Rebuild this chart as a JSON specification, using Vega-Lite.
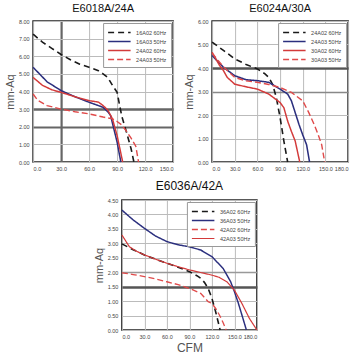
{
  "$schema": "https://vega.github.io/schema/vega-lite/v6.json",
  "padding": {"left": 3, "top": 2, "right": 5, "bottom": 2},
  "background": "white",
  "config": {
    "font": "Liberation Sans",
    "view": {"stroke": "#222", "strokeWidth": 1.6},
    "title": {"fontSize": 11, "fontWeight": "normal", "color": "#111", "offset": 5, "anchor": "middle", "frame": "group"},
    "axis": {"domain": false, "ticks": false, "grid": true, "gridColor": "#bbb", "gridWidth": 1, "labelFontSize": 5.5, "labelColor": "#444", "labelPadding": 4, "titleFontSize": 11, "titleFontWeight": "normal", "titleColor": "#555", "titlePadding": 3},
    "legend": {"orient": "top-right", "offset": 2, "fillColor": "white", "strokeColor": "#999", "strokeWidth": 1, "padding": 4, "symbolType": "M-1,0H4", "symbolSize": 81, "labelFontSize": 5.5, "labelColor": "#444", "rowPadding": 0, "labelOffset": 18}
  },
  "datasets": {
    "p1": [
      {"s": "16A02 60Hz", "cfm": 0, "p": 7.25}, {"s": "16A02 60Hz", "cfm": 10, "p": 6.8}, {"s": "16A02 60Hz", "cfm": 20, "p": 6.45}, {"s": "16A02 60Hz", "cfm": 30, "p": 6.1}, {"s": "16A02 60Hz", "cfm": 40, "p": 5.8}, {"s": "16A02 60Hz", "cfm": 50, "p": 5.55}, {"s": "16A02 60Hz", "cfm": 60, "p": 5.37}, {"s": "16A02 60Hz", "cfm": 70, "p": 5.18}, {"s": "16A02 60Hz", "cfm": 75, "p": 5.0}, {"s": "16A02 60Hz", "cfm": 80, "p": 4.8}, {"s": "16A02 60Hz", "cfm": 85, "p": 4.35}, {"s": "16A02 60Hz", "cfm": 90, "p": 3.95}, {"s": "16A02 60Hz", "cfm": 95, "p": 2.6}, {"s": "16A02 60Hz", "cfm": 100, "p": 1.7}, {"s": "16A02 60Hz", "cfm": 105, "p": 0.75}, {"s": "16A02 60Hz", "cfm": 108, "p": 0},
      {"s": "16A03 50Hz", "cfm": 0, "p": 5.37}, {"s": "16A03 50Hz", "cfm": 5, "p": 5.1}, {"s": "16A03 50Hz", "cfm": 15, "p": 4.55}, {"s": "16A03 50Hz", "cfm": 30, "p": 4.05}, {"s": "16A03 50Hz", "cfm": 45, "p": 3.7}, {"s": "16A03 50Hz", "cfm": 60, "p": 3.39}, {"s": "16A03 50Hz", "cfm": 70, "p": 3.2}, {"s": "16A03 50Hz", "cfm": 75, "p": 3.1}, {"s": "16A03 50Hz", "cfm": 80, "p": 2.85}, {"s": "16A03 50Hz", "cfm": 83, "p": 2.64}, {"s": "16A03 50Hz", "cfm": 90, "p": 1.13}, {"s": "16A03 50Hz", "cfm": 94, "p": 0},
      {"s": "24A02 60Hz", "cfm": 0, "p": 4.8}, {"s": "24A02 60Hz", "cfm": 10, "p": 4.35}, {"s": "24A02 60Hz", "cfm": 20, "p": 4.1}, {"s": "24A02 60Hz", "cfm": 30, "p": 3.95}, {"s": "24A02 60Hz", "cfm": 45, "p": 3.7}, {"s": "24A02 60Hz", "cfm": 60, "p": 3.48}, {"s": "24A02 60Hz", "cfm": 70, "p": 3.4}, {"s": "24A02 60Hz", "cfm": 75, "p": 3.2}, {"s": "24A02 60Hz", "cfm": 80, "p": 2.95}, {"s": "24A02 60Hz", "cfm": 85, "p": 2.45}, {"s": "24A02 60Hz", "cfm": 90, "p": 1.5}, {"s": "24A02 60Hz", "cfm": 96, "p": 0},
      {"s": "24A03 50Hz", "cfm": 0, "p": 3.86}, {"s": "24A03 50Hz", "cfm": 5, "p": 3.5}, {"s": "24A03 50Hz", "cfm": 15, "p": 3.2}, {"s": "24A03 50Hz", "cfm": 30, "p": 3.0}, {"s": "24A03 50Hz", "cfm": 45, "p": 2.85}, {"s": "24A03 50Hz", "cfm": 60, "p": 2.73}, {"s": "24A03 50Hz", "cfm": 75, "p": 2.55}, {"s": "24A03 50Hz", "cfm": 85, "p": 2.45}, {"s": "24A03 50Hz", "cfm": 90, "p": 2.3}, {"s": "24A03 50Hz", "cfm": 95, "p": 2.1}, {"s": "24A03 50Hz", "cfm": 100, "p": 1.75}, {"s": "24A03 50Hz", "cfm": 105, "p": 1.35}, {"s": "24A03 50Hz", "cfm": 110, "p": 0.9}, {"s": "24A03 50Hz", "cfm": 113, "p": 0}
    ],
    "p2": [
      {"s": "24A02 60Hz", "cfm": 0, "p": 5.1}, {"s": "24A02 60Hz", "cfm": 15, "p": 4.75}, {"s": "24A02 60Hz", "cfm": 30, "p": 4.39}, {"s": "24A02 60Hz", "cfm": 45, "p": 4.15}, {"s": "24A02 60Hz", "cfm": 60, "p": 3.96}, {"s": "24A02 60Hz", "cfm": 70, "p": 3.75}, {"s": "24A02 60Hz", "cfm": 75, "p": 3.6}, {"s": "24A02 60Hz", "cfm": 80, "p": 3.31}, {"s": "24A02 60Hz", "cfm": 85, "p": 2.74}, {"s": "24A02 60Hz", "cfm": 90, "p": 1.89}, {"s": "24A02 60Hz", "cfm": 95, "p": 0.89}, {"s": "24A02 60Hz", "cfm": 100, "p": 0},
      {"s": "24A03 50Hz", "cfm": 0, "p": 4.53}, {"s": "24A03 50Hz", "cfm": 15, "p": 4.03}, {"s": "24A03 50Hz", "cfm": 30, "p": 3.67}, {"s": "24A03 50Hz", "cfm": 45, "p": 3.5}, {"s": "24A03 50Hz", "cfm": 60, "p": 3.46}, {"s": "24A03 50Hz", "cfm": 75, "p": 3.39}, {"s": "24A03 50Hz", "cfm": 90, "p": 3.1}, {"s": "24A03 50Hz", "cfm": 100, "p": 2.89}, {"s": "24A03 50Hz", "cfm": 105, "p": 2.6}, {"s": "24A03 50Hz", "cfm": 110, "p": 2.1}, {"s": "24A03 50Hz", "cfm": 115, "p": 1.6}, {"s": "24A03 50Hz", "cfm": 120, "p": 1.15}, {"s": "24A03 50Hz", "cfm": 125, "p": 0.74}, {"s": "24A03 50Hz", "cfm": 129, "p": 0},
      {"s": "30A02 60Hz", "cfm": 0, "p": 4.67}, {"s": "30A02 60Hz", "cfm": 10, "p": 4.1}, {"s": "30A02 60Hz", "cfm": 15, "p": 3.89}, {"s": "30A02 60Hz", "cfm": 20, "p": 3.6}, {"s": "30A02 60Hz", "cfm": 30, "p": 3.31}, {"s": "30A02 60Hz", "cfm": 45, "p": 3.2}, {"s": "30A02 60Hz", "cfm": 60, "p": 3.1}, {"s": "30A02 60Hz", "cfm": 75, "p": 2.89}, {"s": "30A02 60Hz", "cfm": 90, "p": 2.53}, {"s": "30A02 60Hz", "cfm": 95, "p": 2.31}, {"s": "30A02 60Hz", "cfm": 100, "p": 1.74}, {"s": "30A02 60Hz", "cfm": 105, "p": 1.3}, {"s": "30A02 60Hz", "cfm": 110, "p": 0.89}, {"s": "30A02 60Hz", "cfm": 116, "p": 0},
      {"s": "30A03 50Hz", "cfm": 0, "p": 4.63}, {"s": "30A03 50Hz", "cfm": 15, "p": 4.05}, {"s": "30A03 50Hz", "cfm": 30, "p": 3.6}, {"s": "30A03 50Hz", "cfm": 45, "p": 3.45}, {"s": "30A03 50Hz", "cfm": 60, "p": 3.39}, {"s": "30A03 50Hz", "cfm": 75, "p": 3.3}, {"s": "30A03 50Hz", "cfm": 90, "p": 3.17}, {"s": "30A03 50Hz", "cfm": 105, "p": 2.96}, {"s": "30A03 50Hz", "cfm": 120, "p": 2.6}, {"s": "30A03 50Hz", "cfm": 128, "p": 2.1}, {"s": "30A03 50Hz", "cfm": 135, "p": 1.6}, {"s": "30A03 50Hz", "cfm": 140, "p": 1.2}, {"s": "30A03 50Hz", "cfm": 145, "p": 0.74}, {"s": "30A03 50Hz", "cfm": 149, "p": 0}
    ],
    "p3": [
      {"s": "36A02 60Hz", "cfm": 0, "p": 2.98}, {"s": "36A02 60Hz", "cfm": 15, "p": 2.78}, {"s": "36A02 60Hz", "cfm": 30, "p": 2.6}, {"s": "36A02 60Hz", "cfm": 45, "p": 2.45}, {"s": "36A02 60Hz", "cfm": 60, "p": 2.31}, {"s": "36A02 60Hz", "cfm": 75, "p": 2.17}, {"s": "36A02 60Hz", "cfm": 90, "p": 2.02}, {"s": "36A02 60Hz", "cfm": 100, "p": 1.88}, {"s": "36A02 60Hz", "cfm": 105, "p": 1.79}, {"s": "36A02 60Hz", "cfm": 110, "p": 1.65}, {"s": "36A02 60Hz", "cfm": 115, "p": 1.44}, {"s": "36A02 60Hz", "cfm": 120, "p": 1.1}, {"s": "36A02 60Hz", "cfm": 125, "p": 0.63}, {"s": "36A02 60Hz", "cfm": 131, "p": 0},
      {"s": "36A03 50Hz", "cfm": 0, "p": 4.15}, {"s": "36A03 50Hz", "cfm": 15, "p": 3.81}, {"s": "36A03 50Hz", "cfm": 30, "p": 3.52}, {"s": "36A03 50Hz", "cfm": 45, "p": 3.25}, {"s": "36A03 50Hz", "cfm": 60, "p": 3.06}, {"s": "36A03 50Hz", "cfm": 75, "p": 2.95}, {"s": "36A03 50Hz", "cfm": 90, "p": 2.88}, {"s": "36A03 50Hz", "cfm": 105, "p": 2.77}, {"s": "36A03 50Hz", "cfm": 120, "p": 2.54}, {"s": "36A03 50Hz", "cfm": 135, "p": 2.13}, {"s": "36A03 50Hz", "cfm": 145, "p": 1.67}, {"s": "36A03 50Hz", "cfm": 150, "p": 1.33}, {"s": "36A03 50Hz", "cfm": 155, "p": 0.95}, {"s": "36A03 50Hz", "cfm": 160, "p": 0.52}, {"s": "36A03 50Hz", "cfm": 166, "p": 0},
      {"s": "42A02 60Hz", "cfm": 0, "p": 1.98}, {"s": "42A02 60Hz", "cfm": 15, "p": 1.92}, {"s": "42A02 60Hz", "cfm": 30, "p": 1.85}, {"s": "42A02 60Hz", "cfm": 45, "p": 1.77}, {"s": "42A02 60Hz", "cfm": 60, "p": 1.67}, {"s": "42A02 60Hz", "cfm": 75, "p": 1.57}, {"s": "42A02 60Hz", "cfm": 90, "p": 1.44}, {"s": "42A02 60Hz", "cfm": 105, "p": 1.27}, {"s": "42A02 60Hz", "cfm": 115, "p": 0.98}, {"s": "42A02 60Hz", "cfm": 120, "p": 0.92}, {"s": "42A02 60Hz", "cfm": 125, "p": 0.75}, {"s": "42A02 60Hz", "cfm": 130, "p": 0.52}, {"s": "42A02 60Hz", "cfm": 135, "p": 0.25}, {"s": "42A02 60Hz", "cfm": 139, "p": 0},
      {"s": "42A03 50Hz", "cfm": 0, "p": 3.29}, {"s": "42A03 50Hz", "cfm": 10, "p": 2.88}, {"s": "42A03 50Hz", "cfm": 20, "p": 2.72}, {"s": "42A03 50Hz", "cfm": 30, "p": 2.6}, {"s": "42A03 50Hz", "cfm": 45, "p": 2.45}, {"s": "42A03 50Hz", "cfm": 60, "p": 2.31}, {"s": "42A03 50Hz", "cfm": 75, "p": 2.19}, {"s": "42A03 50Hz", "cfm": 90, "p": 2.08}, {"s": "42A03 50Hz", "cfm": 105, "p": 1.99}, {"s": "42A03 50Hz", "cfm": 120, "p": 1.9}, {"s": "42A03 50Hz", "cfm": 130, "p": 1.82}, {"s": "42A03 50Hz", "cfm": 140, "p": 1.67}, {"s": "42A03 50Hz", "cfm": 150, "p": 1.38}, {"s": "42A03 50Hz", "cfm": 160, "p": 0.92}, {"s": "42A03 50Hz", "cfm": 170, "p": 0.4}, {"s": "42A03 50Hz", "cfm": 180, "p": 0}
    ]
  },
  "vconcat": [
    {
      "hconcat": [
        {
          "width": 140, "height": 141,
          "title": "E6018A/24A",
          "data": {"name": "p1"},
          "mark": {"type": "line"},
          "encoding": {
            "x": {"field": "cfm", "type": "quantitative", "scale": {"domain": [0, 150]}, "axis": {"values": [0, 30, 60, 90, 120, 150], "format": ".1f", "title": null, "gridColor": {"condition": {"test": "datum.value == 30", "value": "#666"}, "value": "#bbb"}, "gridWidth": {"condition": {"test": "datum.value == 30", "value": 2.2}, "value": 1}}},
            "y": {"field": "p", "type": "quantitative", "scale": {"domain": [0, 8]}, "axis": {"values": [0, 1, 2, 3, 4, 5, 6, 7, 8], "format": ".2f", "title": "mm-Aq", "gridColor": {"condition": {"test": "datum.value == 3 || datum.value == 2", "value": "#666"}, "value": "#bbb"}, "gridWidth": {"condition": [{"test": "datum.value == 3", "value": 2.6}, {"test": "datum.value == 2", "value": 2}], "value": 1}}},
            "color": {"field": "s", "type": "nominal", "scale": {"domain": ["16A02 60Hz", "16A03 50Hz", "24A02 60Hz", "24A03 50Hz"], "range": ["#1a1a1a", "#2b2f7e", "#d33a3a", "#e04a4a"]}, "legend": {"title": null}},
            "strokeDash": {"field": "s", "type": "nominal", "scale": {"domain": ["16A02 60Hz", "16A03 50Hz", "24A02 60Hz", "24A03 50Hz"], "range": [[6, 4], [1, 0], [1, 0], [6, 3]]}, "legend": {"title": null}},
            "strokeWidth": {"field": "s", "type": "nominal", "scale": {"domain": ["16A02 60Hz", "16A03 50Hz", "24A02 60Hz", "24A03 50Hz"], "range": [1.6, 1.4, 2.4, 1.6]}, "legend": {"title": null}}
          }
        },
        {
          "width": 136, "height": 141,
          "title": "E6024A/30A",
          "data": {"name": "p2"},
          "mark": {"type": "line"},
          "encoding": {
            "x": {"field": "cfm", "type": "quantitative", "scale": {"domain": [0, 180]}, "axis": {"values": [0, 30, 60, 90, 120, 150, 180], "format": ".1f", "title": null}},
            "y": {"field": "p", "type": "quantitative", "scale": {"domain": [0, 6]}, "axis": {"values": [0, 1, 2, 3, 4, 5, 6], "format": ".2f", "title": "mm-Aq", "gridColor": {"condition": [{"test": "datum.value == 4", "value": "#555"}, {"test": "datum.value == 3", "value": "#888"}], "value": "#bbb"}, "gridWidth": {"condition": [{"test": "datum.value == 4", "value": 2.6}, {"test": "datum.value == 3", "value": 1.6}], "value": 1}}},
            "color": {"field": "s", "type": "nominal", "scale": {"domain": ["24A02 60Hz", "24A03 50Hz", "30A02 60Hz", "30A03 50Hz"], "range": ["#1a1a1a", "#2b2f7e", "#d33a3a", "#e04a4a"]}, "legend": {"title": null}},
            "strokeDash": {"field": "s", "type": "nominal", "scale": {"domain": ["24A02 60Hz", "24A03 50Hz", "30A02 60Hz", "30A03 50Hz"], "range": [[6, 4], [1, 0], [1, 0], [6, 3]]}, "legend": {"title": null}},
            "strokeWidth": {"field": "s", "type": "nominal", "scale": {"domain": ["24A02 60Hz", "24A03 50Hz", "30A02 60Hz", "30A03 50Hz"], "range": [1.6, 1.4, 2.4, 1.6]}, "legend": {"title": null}}
          }
        }
      ],
      "spacing": 8,
      "resolve": {"scale": {"color": "independent", "strokeDash": "independent", "strokeWidth": "independent"}}
    },
    {
      "width": 135, "height": 130,
      "title": {"text": "E6036A/42A", "fontSize": 12},
      "data": {"name": "p3"},
      "mark": {"type": "line"},
      "encoding": {
        "x": {"field": "cfm", "type": "quantitative", "scale": {"domain": [0, 180]}, "axis": {"values": [0, 30, 60, 90, 120, 150, 180], "format": ".1f", "title": "CFM", "titleFontSize": 12}},
        "y": {"field": "p", "type": "quantitative", "scale": {"domain": [0, 4.5]}, "axis": {"values": [0, 0.5, 1, 1.5, 2, 2.5, 3, 3.5, 4, 4.5], "format": ".2f", "title": "mm-Aq", "gridColor": {"condition": [{"test": "datum.value == 1.5", "value": "#555"}, {"test": "datum.value == 2", "value": "#999"}], "value": "#bbb"}, "gridWidth": {"condition": [{"test": "datum.value == 1.5", "value": 2.6}, {"test": "datum.value == 2", "value": 1.6}], "value": 1}}},
        "color": {"field": "s", "type": "nominal", "scale": {"domain": ["36A02 60Hz", "36A03 50Hz", "42A02 60Hz", "42A03 50Hz"], "range": ["#1a1a1a", "#2b2f7e", "#e04a4a", "#d33a3a"]}, "legend": {"title": null}},
        "strokeDash": {"field": "s", "type": "nominal", "scale": {"domain": ["36A02 60Hz", "36A03 50Hz", "42A02 60Hz", "42A03 50Hz"], "range": [[6, 4], [1, 0], [6, 3], [1, 0]]}, "legend": {"title": null}},
        "strokeWidth": {"field": "s", "type": "nominal", "scale": {"domain": ["36A02 60Hz", "36A03 50Hz", "42A02 60Hz", "42A03 50Hz"], "range": [1.6, 1.2, 1.6, 2.4]}, "legend": {"title": null}}
      }
    }
  ],
  "spacing": 6,
  "center": true,
  "resolve": {"scale": {"color": "independent", "strokeDash": "independent", "strokeWidth": "independent"}}
}
